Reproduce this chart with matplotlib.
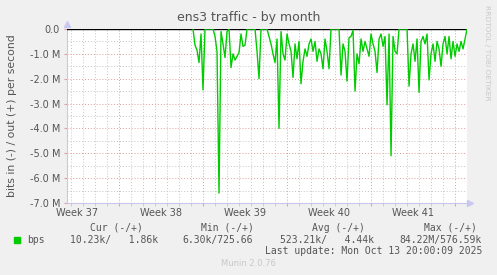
import numpy as np
import matplotlib.pyplot as plt
from matplotlib.patches import Rectangle

# traffic in (negated), Mbit/s, one sample per 4 hours starting day 10.5 of the window
bps_in = [
    0, -0.65, -0.85, -1.35, -0.2, -2.45, 0, 0, 0, 0,
    0, -0.3, -0.9, -6.6, -0.1, -0.6, -1.15, -0.1, 0, -1.55,
    -1.0, -1.25, -1.1, -0.95, -0.2, -0.7, -0.65, 0, 0, 0,
    0, 0, -0.9, -2.0, 0, 0, 0, 0, -0.3, -0.6,
    -1.0, -1.35, -0.4, -4.0, -0.1, -1.0, -1.25, -0.2, -0.6, -0.9,
    -1.95, -0.6, -1.2, -0.5, -2.2, -1.3, -0.8, -1.1, -0.6, -0.4,
    -0.9, -0.5, -1.3, -0.8, -1.0, -1.6, -0.4, -0.9, -1.6, 0,
    0, 0, 0, 0, -1.85, -0.6, -0.9, -2.1, -0.35, -0.3,
    -0.05, -2.5, -1.0, -1.4, -0.4, -0.9, -0.5, -0.8, -1.1, -0.2,
    -0.6, -0.9, -1.75, -0.4, -0.2, -0.7, -0.3, -3.05, -0.2, -5.1,
    -0.3, -0.9, -1.0, 0, 0, 0, 0, 0, -2.3, -1.0,
    -0.6, -1.3, -0.4, -2.55, -0.5, -0.3, -0.6, -0.2, -2.05, -1.0,
    -0.6, -1.3, -0.5, -0.8, -1.5, -0.6, -0.3, -1.0, -0.3, -1.2,
    -0.5, -1.1, -0.6, -0.9, -0.5, -0.8, -0.4, 0,
]
start_day = 10.5
step_day = 1 / 6

weeks = ["Week 37", "Week 38", "Week 39", "Week 40", "Week 41"]
week_start = 4.33   # first week boundary (days from left edge)
span_days = 33.33

yticks = [0, -1, -2, -3, -4, -5, -6, -7]
ylabels = ["0.0", "-1.0 M", "-2.0 M", "-3.0 M", "-4.0 M", "-5.0 M", "-6.0 M", "-7.0 M"]

legend_head = ["Cur (-/+)", "Min (-/+)", "Avg (-/+)", "Max (-/+)"]
legend_vals = ["10.23k/   1.86k", "6.30k/725.66", "523.21k/   4.44k", "84.22M/576.59k"]

txt = "#555555"
W, H = 497, 275
fig = plt.figure(figsize=(W / 100, H / 100), dpi=100, facecolor="#f0f0f0")
ax = fig.add_axes([67 / W, 1 - 203 / H, 400 / W, 174 / H])
ax.set_facecolor("white")

x = start_day + step_day * np.arange(len(bps_in))
ax.set_xlim(0, span_days)
ax.set_ylim(-7, 0)

# grid
minor_x = np.arange(week_start - 4, span_days, 1.0)
major_x = np.arange(week_start, span_days, 7.0)
ax.set_xticks(major_x)
ax.set_xticks(minor_x, minor=True)
ax.set_xticklabels([])
ax.set_yticks(yticks)
ax.set_yticklabels(ylabels)
ax.set_yticks(np.arange(-6.5, 0, 1.0), minor=True)
ax.grid(True, which="minor", color="#c4c4c4", linestyle=(0, (1, 2)), linewidth=0.7)
ax.grid(True, which="major", color="#e09c9c", linestyle=(0, (1, 2)), linewidth=0.7)
ax.tick_params(axis="x", which="major", length=2, color="#e0a0a0")
ax.tick_params(axis="x", which="minor", length=2, color="#c8c8c8")
ax.tick_params(axis="y", which="major", length=2, color="#e0a0a0", labelsize=7,
               labelcolor=txt, pad=3)
ax.tick_params(axis="y", which="minor", length=0)

for s in ["top", "right"]:
    ax.spines[s].set_visible(False)
for s in ["left", "bottom"]:
    ax.spines[s].set_color("#c8c8ec")
    ax.spines[s].set_linewidth(0.8)

# week labels
for i, w in enumerate(weeks):
    ax.text(week_start - 3.5 + 7 * i, -7.2, w, ha="center", va="top",
            fontsize=7, color=txt)

ax.axhline(0, color="black", linewidth=1.0, zorder=3)
ax.plot(x, bps_in, color="#00cc00", linewidth=1.0, zorder=4)

# axis arrows
ax.plot([1.008], [0], marker=">", color="#c8c8f0", markersize=5,
        transform=ax.transAxes, clip_on=False)
ax.plot([0], [1.03], marker="^", color="#c8c8f0", markersize=5,
        transform=ax.transAxes, clip_on=False)

fig.text(0.5, 1 - 18 / H, "ens3 traffic - by month", ha="center", va="center",
         fontsize=9, color=txt)
fig.text(12 / W, 1 - 116 / H, "bits in (-) / out (+) per second", rotation=90,
         ha="center", va="center", fontsize=7.8, color=txt)
fig.text(487 / W, 1 - 53 / H, "RRDTOOL / TOBI OETIKER", rotation=270,
         ha="center", va="center", fontsize=5.4, color="#c8c8c8")

# legend
mono = "DejaVu Sans Mono"
for label, xc in zip(legend_head, [116, 227, 338, 450]):
    fig.text(xc / W, 1 - 228 / H, label, ha="center", va="center", fontsize=7,
             family=mono, color=txt)
fig.patches.append(Rectangle((14 / W, 1 - 243 / H), 6 / W, 6 / H, color="#00cc00",
                             transform=fig.transFigure, figure=fig))
fig.text(27 / W, 1 - 240 / H, "bps", ha="left", va="center", fontsize=7,
         family=mono, color=txt)
for val, xr in zip(legend_vals, [158, 253, 374, 482]):
    fig.text(xr / W, 1 - 240 / H, val, ha="right", va="center", fontsize=7,
             family=mono, color=txt)
fig.text(482 / W, 1 - 251 / H, "Last update: Mon Oct 13 20:00:09 2025", ha="right",
         va="center", fontsize=7, family=mono, color=txt)
fig.text(248 / W, 1 - 264 / H, "Munin 2.0.76", ha="center", va="center",
         fontsize=6, color="#c8c8c8")

fig.savefig("out.png", dpi=100, facecolor=fig.get_facecolor())
